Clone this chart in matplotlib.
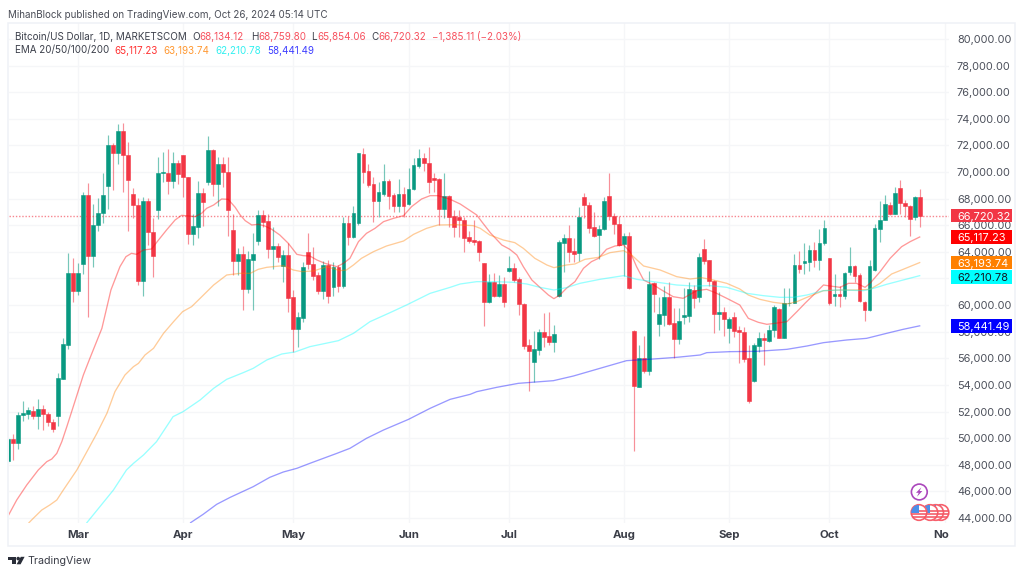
import matplotlib
matplotlib.use("Agg")
import numpy as np
import matplotlib.pyplot as plt
from matplotlib.patches import Rectangle, Circle, Polygon
from matplotlib.transforms import blended_transform_factory

plt.rcParams['font.family'] = ['Inter', 'DejaVu Sans']

# --- daily candles ---
opens = [48300, 49912, 49661, 51741, 51816, 52041, 51665, 52192, 51816, 51239,
         51665, 54446, 57001, 62436, 61084, 63088, 68273, 63714, 66005, 66896,
         68975, 72056, 71404, 73058, 71304, 68323, 67497, 61835, 67822, 65468,
         67121, 69952, 69952, 69350, 70703, 71254, 69651, 65368, 65869, 68448,
         69275, 71630, 69100, 70578, 70001, 65643, 63338, 63814, 61209, 63388,
         64841, 66770, 66344, 64190, 64440, 62963, 63739, 60583, 58178, 59055,
         63990, 63088, 62261, 61084, 63013, 61384, 62887, 61459, 66169, 65117,
         66144, 71379, 70052, 69075, 67847, 68348, 69350, 68273, 67472, 68323,
         67597, 68724, 70453, 71054, 70703, 69576, 69450, 67221, 68223, 66695,
         66595, 66395, 65092, 64917, 64792, 63139, 60207, 61761, 60708, 61585,
         62587, 62813, 61936, 60082, 56976, 55749, 56600, 57978, 57678, 57227,
         60708, 64692, 65042, 64065, 63890, 68098, 67522, 65844, 65243, 65719,
         68199, 66721, 66094, 64566, 65217, 58028, 53870, 56024, 55072, 61636,
         58605, 59281, 60583, 58630, 57427, 59106, 59206, 61135, 60583, 64190,
         63363, 61810, 59305, 59455, 58303, 59105, 58102, 58002, 56049, 54295,
         56950, 57551, 57326, 58128, 59706, 57551, 60132, 60182, 62988, 63163,
         63238, 64165, 63388, 64641, 63538, 60708, 60834, 60683, 62512, 62938,
         62236, 60257, 59606, 62637, 65743, 66394, 67522, 66845, 68774, 67672,
         67447, 66645, 68134]
highs = [50000, 50313, 51991, 52768, 52367, 52417, 52943, 52492, 51966, 51415,
         54872, 57527, 63939, 63539, 63138, 68473, 69150, 67597, 68023, 69952,
         72807, 72157, 73609, 73659, 72281, 68824, 68023, 68098, 68023, 66570,
         71104, 71505, 71705, 71505, 70904, 71280, 69651, 66846, 69325, 68774,
         72682, 71705, 71154, 71154, 71154, 66845, 64315, 64441, 64090, 65392,
         67146, 67146, 66845, 65893, 64641, 64140, 64641, 61134, 59505, 63263,
         65392, 64340, 62512, 63314, 63389, 63263, 63013, 66595, 66695, 67446,
         71404, 71780, 70578, 69651, 69275, 70578, 69450, 68398, 69450, 68900,
         70277, 71029, 71705, 71455, 71855, 69951, 69525, 69951, 68273, 67146,
         67146, 66595, 65593, 66395, 64892, 63189, 62312, 62387, 62262, 62086,
         63715, 63139, 62086, 60132, 57452, 58078, 58203, 59381, 59456, 58504,
         64892, 65343, 66019, 65017, 67397, 68449, 67773, 67021, 66019, 68149,
         69952, 66896, 66696, 65443, 65518, 58129, 57002, 57678, 62587, 61761,
         60583, 61435, 61761, 59757, 59757, 61310, 61761, 61510, 63890, 64942,
         63388, 61885, 61009, 59831, 59130, 59506, 58453, 58378, 57000, 57125,
         57952, 57928, 58503, 60007, 59756, 61259, 61309, 63814, 64065, 64641,
         64515, 64716, 65718, 66394, 63538, 62311, 61434, 62512, 64340, 63013,
         62387, 60307, 63388, 66069, 67822, 68273, 67722, 68850, 69400, 67897,
         67522, 68198, 68759]
lows = [48100, 48359, 49211, 51265, 51415, 51415, 50689, 50613, 50914, 50463,
        50914, 54421, 56676, 60257, 60758, 62336, 59130, 62837, 65593, 66194,
        67196, 68649, 70578, 68524, 65543, 66570, 61510, 60709, 64516, 62136,
        66444, 69275, 68348, 68774, 69100, 68098, 64566, 64516, 65042, 65969,
        69025, 68198, 67472, 68900, 65192, 62261, 62261, 59631, 60883, 59631,
        64516, 65843, 63564, 62712, 63263, 61760, 59455, 56500, 56875, 58754,
        62687, 61885, 60833, 60458, 60182, 60708, 60959, 61259, 64516, 65017,
        66019, 69150, 68850, 66269, 66595, 68223, 67221, 67021, 67021, 66645,
        67521, 68649, 70277, 70102, 68399, 68524, 66019, 66519, 65894, 65092,
        65092, 64015, 64641, 64516, 63339, 58454, 60182, 60633, 60583, 59882,
        62462, 61761, 59256, 56700, 53544, 54246, 56250, 56876, 57001, 56500,
        60633, 62462, 63264, 63214, 63314, 66570, 65443, 65143, 63489, 65643,
        66395, 65318, 64441, 62212, 61185, 49060, 53870, 54872, 54747, 59506,
        57703, 58454, 58479, 56049, 57051, 58579, 58755, 59757, 60258, 63063,
        61460, 57877, 58128, 57702, 57125, 57627, 55673, 55748, 52667, 54245,
        56500, 55497, 57251, 57627, 57501, 57501, 59901, 60132, 62387, 62336,
        62562, 62888, 62637, 64515, 60007, 59931, 59831, 60433, 62261, 61760,
        60257, 58830, 59581, 62587, 64766, 66394, 66770, 66845, 66845, 66595,
        65192, 66394, 65854]
closes = [49912, 49661, 51741, 51891, 52141, 51665, 52192, 51791, 51239, 50689,
          54496, 57051, 62436, 61084, 62386, 68273, 63714, 66019, 66896, 68273,
          72056, 71404, 73058, 71304, 69425, 67497, 61835, 67822, 65468, 63714,
          69952, 70000, 69350, 70703, 69851, 69600, 65368, 65918, 68448, 67772,
          71630, 69100, 70578, 69976, 67121, 63338, 63814, 61209, 63439, 63814,
          66770, 66269, 64190, 64440, 63639, 63740, 60508, 58178, 59080, 62862,
          63088, 62211, 61084, 63013, 60708, 62887, 61434, 66169, 65142, 66945,
          71404, 70026, 69025, 67847, 68524, 69325, 68223, 67472, 68323, 67472,
          68749, 70503, 71054, 70653, 69225, 69425, 67221, 68223, 66645, 65843,
          66395, 65067, 64842, 64767, 63990, 60207, 61761, 60708, 61560, 60207,
          62813, 61886, 60057, 56926, 56550, 56676, 57978, 57602, 57227, 57827,
          64742, 65042, 63990, 63865, 66646, 67497, 65819, 65217, 65719, 67823,
          66696, 66069, 64541, 65217, 61310, 53895, 56024, 55072, 61611, 60809,
          59331, 60583, 58605, 57427, 58830, 59256, 61185, 60558, 63614, 63338,
          61810, 59305, 59455, 58930, 58955, 58052, 58002, 55924, 52767, 56999,
          57501, 57351, 58153, 59831, 57551, 60132, 60157, 62988, 62712, 63288,
          64165, 63388, 64666, 65793, 60182, 60834, 60658, 62387, 62912, 62186,
          60307, 59606, 62912, 65768, 66394, 67572, 66845, 68399, 67647, 67447,
          66470, 68098, 66720]

# --- moving averages, read at the visible bends (x is the candle number) ---
ema20_x = [0, 1.8, 3.8, 6.1, 7.8, 8.8, 9.8, 10.8, 11.8, 13.4, 15.1, 16.4, 18.8, 20.6, 22.4, 23.6, 24.7, 25.7,
           27.1, 28.7, 30.1, 31.7, 33.4, 34.7, 36.1, 37.4, 38.7, 39.7, 41.1, 42.7, 44, 45.4, 46.4, 47.4, 48.7,
           50, 51.3, 52.7, 54.3, 56, 57.7, 59, 60.3, 61.7, 63.3, 65.7, 67, 68.3, 70, 71.6, 73.3, 75, 77, 79,
           80.6, 82.6, 84.3, 85.9, 88.3, 90.3, 91.9, 93.6, 94.6, 96.3, 98.6, 100.2, 101.6, 102.9, 104.6, 106.2,
           107.9, 109, 110.2, 111.5, 113.2, 114.9, 116.5, 117.9, 119.5, 121.2, 122.9, 124.2, 125.5, 126.9,
           128.9, 130.5, 132.8, 134.8, 137.5, 139.5, 141.2, 143.5, 146.1, 147.8, 149.8, 151.5, 153.1, 155.5,
           157.5, 159.1, 160.8, 162.8, 164.1, 166.1, 167.8, 169.4, 171.1, 172.1, 174.1, 176.1, 178.4, 180.1, 182]
ema20 = [44100, 45353, 46481, 47608, 48234, 48434, 48860, 49737, 50864, 52743, 54747, 56000, 58254, 61134, 62887,
         63639, 63889, 63814, 64140, 64215, 64892, 65643, 66394, 66745, 66695, 66645, 66896, 67271, 67522, 67973,
         67948, 67346, 66770, 66344, 66019, 66069, 65944, 65693, 65267, 64641, 63814, 63714, 63689, 63389, 63138,
         62887, 63138, 63514, 64766, 65392, 65768, 66269, 66520, 66720, 67397, 67973, 68223, 68223, 67948, 67597,
         67197, 66771, 66270, 65443, 64516, 64191, 63765, 62888, 61886, 61335, 60759, 60483, 60759, 61260, 61761,
         62763, 63264, 63514, 64191, 64441, 64516, 64015, 62888, 61886, 61510, 61134, 60633, 60508, 61084, 61184,
         60934, 60508, 60007, 59005, 58704, 58554, 58629, 58754, 59506, 60132, 60758, 61510, 61434, 61334, 61635,
         61635, 61334, 61635, 62512, 63514, 64390, 64766, 65117]
ema50_x = [4.25, 5.1, 6.8, 8.4, 9.8, 11.1, 13.8, 15.8, 17.8, 19.8, 21.4, 23.4, 25.1, 26.1, 27.4, 29.1, 31.1, 33.1,
           34.9, 36.7, 38.4, 41.1, 43.7, 46.4, 48.4, 50, 51.7, 55, 57, 58.7, 61, 63.7, 66.3, 67.6, 69, 70.6, 73,
           75.6, 79, 81, 83.6, 85.9, 89.6, 92.9, 94.3, 96.2, 98.9, 101.2, 102.9, 105.2, 107.6, 109, 111.5, 113.2,
           115.2, 117.9, 120.2, 122.9, 124.5, 126.9, 130.2, 133.5, 136.2, 138.5, 140.8, 143.5, 146.1, 147.8, 150.1,
           152.8, 155.5, 157.5, 159.5, 162.8, 166.1, 169.4, 172.1, 174.1, 176.4, 178.7, 182]
ema50 = [43650, 43975, 44601, 44977, 45353, 46104, 47608, 48985, 50363, 51866, 53494, 54747, 55373, 55623, 56250,
         56751, 57878, 58755, 59506, 59882, 60508, 61510, 62261, 62386, 62386, 62687, 62838, 62963, 62637, 62512,
         62562, 62887, 62587, 62637, 63013, 63514, 64015, 64441, 64816, 65317, 65768, 66019, 66040, 65969, 65769,
         65268, 64892, 64692, 64266, 63514, 63013, 62813, 63013, 63088, 63439, 63589, 63940, 64090, 63765, 62938,
         62637, 62137, 61961, 62061, 61885, 61635, 61209, 60758, 60433, 60207, 60082, 60257, 60583, 61084, 61134,
         61134, 61184, 61635, 62336, 62687, 63194]
ema100_x = [15.8, 18.4, 21.1, 23.7, 25.1, 27.1, 29.7, 33, 35, 38.4, 41.1, 43.7, 47, 49, 51.7, 54.7, 57.3, 60.3, 66,
            69, 72.3, 76.3, 79.6, 84.3, 88.3, 90.3, 93.6, 97, 100.9, 103.6, 106.2, 109, 111.5, 114.2, 118.2, 122.9,
            125.5, 130.2, 133.5, 136.8, 140.2, 143.5, 147.5, 150.8, 154.1, 156.8, 159.5, 162.8, 166.1, 170.8, 172.8,
            175.4, 178.7, 182]
ema100 = [43650, 44852, 46104, 47608, 48108, 48735, 49737, 51616, 51991, 52868, 53745, 54421, 54922, 55248, 55874,
          56325, 56475, 56876, 57327, 57877, 58754, 59431, 60007, 60883, 61334, 61585, 61761, 61761, 61711, 61585,
          61335, 61135, 61310, 61636, 61936, 62212, 61936, 61685, 61510, 61435, 61460, 61334, 60883, 60708, 60583,
          60583, 60758, 61084, 61134, 61084, 61259, 61560, 61885, 62211]
ema200_x = [36.5, 39, 41.7, 44.4, 49, 52.3, 55, 57.7, 60.3, 65.7, 68.3, 71.6, 75, 80, 84.3, 88.3, 92.3, 93.6, 97.6,
            101.9, 108.9, 112.9, 118.2, 123.5, 128.9, 133.5, 138.2, 139.5, 144.1, 149.5, 155.5, 159.5, 162.8, 167.4,
            171.4, 175.4, 178.7, 182]
ema200 = [43650, 44276, 45027, 45553, 46355, 47056, 47457, 47733, 48108, 48860, 49236, 49987, 50613, 51415, 52242,
          52918, 53294, 53494, 53820, 54120, 54320, 54671, 55248, 55824, 55949, 56075, 56250, 56425, 56500, 56525,
          56675, 56925, 57176, 57376, 57501, 57877, 58178, 58441]

month_pos = [14, 35, 57, 80, 100, 123, 144, 164, 187]
month_labels = ['Mar', 'Apr', 'May', 'Jun', 'Jul', 'Aug', 'Sep', 'Oct', 'Nov']
price_ticks = list(range(44000, 80001, 2000))

# last values on the price scale
last_close = 66720.32
tag_values = [66720.32, 65117.23, 63193.74, 62210.78, 58441.49]
tag_y = [66720.32, 65117.23, 63193.74, 62110, 58441.49]
tag_colors = ['#f23645', '#ff0000', '#ff8000', '#00ffff', '#0000ff']
tag_text_colors = ['#ffffff', '#ffffff', '#ffffff', '#131722', '#ffffff']

GREEN = '#089981'
RED = '#f23645'
GRID = '#f5f6f8'
BORDER = '#eff1f6'
TEXT = '#3c404b'

W, H = 1024, 575
PANE_L, PANE_R, PANE_T, PANE_B = 8.5, 949, 22.7, 523
SCALE_R = 1015

fig = plt.figure(figsize=(W / 100, H / 100), dpi=100, facecolor='white')
ax = fig.add_axes([PANE_L / W, 1 - PANE_B / H, (PANE_R - PANE_L) / W, (PANE_B - PANE_T) / H])
ax.set_xlim(0.16, 187.85)
ax.set_ylim(43625, 81220)

ax.set_axisbelow(True)
ax.grid(True, color=GRID, linewidth=1.0)
for s in ax.spines.values():
    s.set_visible(False)
ax.set_yticks(price_ticks)
ax.set_xticks(month_pos)
ax.set_xticklabels(month_labels, fontsize=8.2, fontweight='bold', color='#3a3d47')
ax.tick_params(axis='x', length=0, pad=5)
ax.tick_params(axis='y', length=0, labelleft=False)

# candles
idx = np.arange(len(opens))
o, h, l, c = map(np.array, (opens, highs, lows, closes))
colors = np.where(c >= o, GREEN, RED)
ax.vlines(idx, l, h, colors=colors, linewidth=0.85, alpha=0.55, zorder=2)
ax.bar(idx, np.abs(c - o), bottom=np.minimum(o, c), width=0.76, color=colors,
       edgecolor=colors, linewidth=0.4, zorder=3)

# current price line
ax.axhline(last_close, color=RED, linewidth=1.0, linestyle=(0, (1, 1.3)), alpha=0.6, zorder=2)

# EMAs
ax.plot(ema20_x, ema20, color='#ff0000', alpha=0.4, linewidth=0.95, zorder=4)
ax.plot(ema50_x, ema50, color='#ff8000', alpha=0.4, linewidth=0.95, zorder=4)
ax.plot(ema100_x, ema100, color='#00ffff', alpha=0.4, linewidth=0.95, zorder=4)
ax.plot(ema200_x, ema200, color='#0000ff', alpha=0.4, linewidth=0.95, zorder=4)

# price scale strip, on top of the pane so "Nov" gets cut off like in the original
scale = fig.add_axes([PANE_R / W, 1 - PANE_B / H, (SCALE_R - PANE_R) / W, (PANE_B - PANE_T) / H],
                     facecolor='white', zorder=3)
scale.set_ylim(ax.get_ylim())
scale.set_xlim(0, 1)
scale.set_xticks([])
for s in scale.spines.values():
    s.set_visible(False)
scale.set_yticks(price_ticks)
scale.set_yticklabels([f'{p:,.2f}' for p in price_ticks], fontsize=7.9, color='#4c505b', ha='left')
scale.yaxis.tick_left()
scale.tick_params(axis='y', length=0, pad=-(957 - PANE_R + 0) * 0.72)
for lbl in scale.get_yticklabels():
    lbl.set_horizontalalignment('left')
    lbl.set_x(0)

trans = blended_transform_factory(scale.transAxes, scale.transData)
tag_h = 13.6 * 75.15
for val, y, col, tcol in zip(tag_values, tag_y, tag_colors, tag_text_colors):
    scale.add_patch(Rectangle((0.03, y - tag_h / 2), 0.925, tag_h, transform=trans, facecolor=col,
                              edgecolor='none', zorder=5))
    scale.text((957 - PANE_R) / (SCALE_R - PANE_R), y, f'{val:,.2f}', transform=trans, color=tcol,
               fontsize=7.9, va='center_baseline', ha='left', zorder=6)

# overlay in picture pixels for the header, logo and event badges
over = fig.add_axes([0, 0, 1, 1], facecolor='none', zorder=5)
over.set_xlim(0, W)
over.set_ylim(H, 0)
over.axis('off')
over.add_patch(Rectangle((PANE_R, PANE_B), SCALE_R - PANE_R, 22, facecolor='white', edgecolor='none'))
over.add_patch(Rectangle((8.3, PANE_T), SCALE_R - 8.3, 545.7 - PANE_T, facecolor='none', edgecolor=BORDER, linewidth=1.1))


def put(x, y, s, color=TEXT, size=7.1, **kw):
    over.text(x, y, s, color=color, fontsize=size, va='center', ha='left', **kw)


put(8.3, 14.5, 'MihanBlock published on TradingView.com, Oct 26, 2024 05:14 UTC', color='#4a4d57')
put(15, 36.5, 'Bitcoin/US Dollar, 1D, MARKETSCOM')
VAL = '#f7525f'
put(192, 36.5, 'O')
put(199, 36.5, '68,134.12', color=VAL)
put(251, 36.5, 'H')
put(258, 36.5, '68,759.80', color=VAL)
put(311.5, 36.5, 'L')
put(317, 36.5, '65,854.06', color=VAL)
put(371.5, 36.5, 'C')
put(378.5, 36.5, '66,720.32', color=VAL)
put(432, 36.5, '\u22121,385.11 (\u22122.03%)', color=VAL)
put(15, 50.5, 'EMA 20/50/100/200')
put(114.5, 50.5, '65,117.23', color='#ff3333')
put(163.5, 50.5, '63,193.74', color='#ff9933')
put(215, 50.5, '62,210.78', color='#33f0f0')
put(267, 50.5, '58,441.49', color='#3f3fff')

# event badges bottom right, the first one sits on top
for n, cx in enumerate([941, 935.7, 930, 919]):
    z = 3 + n
    disc = Circle((cx, 512.5), 7.8, facecolor='white', edgecolor='#f7606c', linewidth=1.2, zorder=z)
    over.add_patch(disc)
    for sy in [511, 514, 517]:
        stripe, = over.plot([cx - 8, cx + 8], [sy, sy], color='#f2505c', linewidth=1.1, zorder=z + 0.1,
                            solid_capstyle='butt')
        stripe.set_clip_path(disc)
    canton = Rectangle((cx - 8, 505), 8, 7.5, facecolor='#4d8fe8', edgecolor='none', zorder=z + 0.2)
    over.add_patch(canton)
    canton.set_clip_path(disc)
over.add_patch(Circle((919.3, 492), 7.9, facecolor='white', edgecolor='#ab47bc', linewidth=1.2, zorder=3))
over.add_patch(Polygon([(921.3, 487.3), (916, 492.8), (918.7, 492.8), (917, 496.7), (922.4, 491), (919.6, 491)],
                       facecolor='#ab47bc', edgecolor='none', zorder=3.1))

# TradingView logo
LOGO = '#2a2e39'
over.add_patch(Polygon([(8.3, 556.8), (16.2, 556.8), (16.2, 564.3), (12.4, 564.3), (12.4, 560.3), (8.3, 560.3)],
                       facecolor=LOGO, edgecolor='none'))
over.add_patch(Circle((18.2, 558.6), 1.8, facecolor=LOGO, edgecolor='none'))
over.add_patch(Polygon([(20.8, 556.8), (24.6, 556.8), (20.6, 564.3), (16.6, 564.3)], facecolor=LOGO, edgecolor='none'))
put(27.5, 560.5, 'TradingView', color='#3a3d47', size=7.7)

fig.savefig('out.png', dpi=100)
